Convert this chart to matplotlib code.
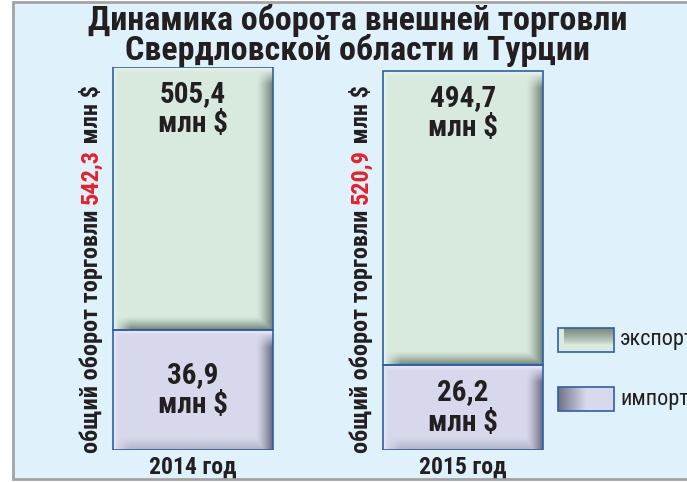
import numpy as np
import matplotlib
matplotlib.use("Agg")
import matplotlib.pyplot as plt
import matplotlib.transforms as mtransforms
from matplotlib.font_manager import fontManager, FontProperties, weight_dict, stretch_dict

# --- данные ---
years = ["2014 год", "2015 год"]
export = [505.4, 494.7]
imports = [36.9, 26.2]
total = [542.3, 520.9]
export_lbl = ["505,4", "494,7"]
import_lbl = ["36,9", "26,2"]
total_lbl = ["542,3", "520,9"]


def _num(v, table):
    return v if isinstance(v, (int, float)) else table.get(str(v).lower(), 400)


def narrow_font(want_weight):
    """Ищем узкий (condensed/narrow) шрифт нужной насыщенности."""
    order = ["Roboto", "Noto Sans", "Open Sans", "Liberation", "DejaVu", "Lato", "Inter"]
    best = None
    for f in fontManager.ttflist:
        cond = _num(f.stretch, stretch_dict) < 500 or "Condensed" in f.name or "Narrow" in f.name
        if not cond or f.style != "normal":
            continue
        rank = next((k for k, o in enumerate(order) if f.name.startswith(o)), 99)
        score = (abs(_num(f.weight, weight_dict) - want_weight), rank)
        if best is None or score < best[0]:
            best = (score, f.fname)
    if best is None:
        return FontProperties(family="DejaVu Sans", weight=want_weight, stretch="condensed")
    return FontProperties(fname=best[1])


FB = narrow_font(700)
FR = narrow_font(400)


def fp(base, size):
    p = base.copy()
    p.set_size(size)
    return p


BG = "#dff1fb"
DARK_TXT = "#231f20"
EDGE = "#2f5fa8"
C_EXP, D_EXP = np.array([0.85, 0.92, 0.87]), np.array([0.40, 0.46, 0.41])
C_IMP, D_IMP = np.array([0.85, 0.85, 0.93]), np.array([0.36, 0.36, 0.45])

W, H = 687, 482
fig = plt.figure(figsize=(W / 100, H / 100), dpi=100, facecolor="white")
ident = mtransforms.IdentityTransform()

# серая рамка
frame = fig.add_axes([0, 0, 1, 1], zorder=-5)
frame.set_xlim(0, W)
frame.set_ylim(H, 0)
frame.axis("off")
frame.add_patch(plt.Rectangle((13, 2), W, 477, facecolor=BG, edgecolor="#a3a3a3", lw=2))

ax = fig.add_axes([58 / W, 32 / H, 540 / W, 383 / H])
ax.set_autoscale_on(False)
ax.patch.set_visible(False)
# масштаб не пропорциональный, как в оригинале: нижняя часть растянута
ax.set_yscale("symlog", linthresh=40, linscale=0.523)
ax.set_xlim(-0.5, 1.5)
ax.set_ylim(0, max(total))
for s in ax.spines.values():
    s.set_visible(False)
ax.tick_params(left=False, labelleft=False, bottom=False)

x = np.arange(len(years))
bw = 0.593
b_imp = ax.bar(x, imports, bw, color=C_IMP, edgecolor="none", zorder=1)
b_exp = ax.bar(x, export, bw, bottom=imports, color=C_EXP, edgecolor="none", zorder=1)


def bevel(w, h, base, dark, bot_strength):
    xs = np.arange(w) + 0.5
    ys = np.arange(h) + 0.5
    tr = np.clip(1 - (w - xs) / 17, 0, 1) ** 1.3
    tb = np.clip(1 - (h - ys) / 14, 0, 1) ** 1.3 * bot_strength
    ramp_y = np.clip((ys - 3) / 14, 0, 1)
    ramp_x = np.clip((xs - 2) / 16, 0, 1)
    sh = np.maximum(tr[None, :] * ramp_y[:, None], tb[:, None] * ramp_x[None, :])
    sh = np.clip(sh, 0, 1) * 0.92
    img = base[None, None, :] * (1 - sh[..., None]) + dark[None, None, :] * sh[..., None]
    hl = np.maximum(np.clip(1 - ys / 5, 0, 1)[:, None] * np.ones((1, w)),
                    np.clip(1 - xs / 5, 0, 1)[None, :] * np.ones((h, 1))) * 0.45
    img = img * (1 - hl[..., None]) + hl[..., None]
    return np.clip(img, 0, 1)


for bars, base, dark, bs in [(b_imp, C_IMP, D_IMP, 0.35), (b_exp, C_EXP, D_EXP, 1.0)]:
    for p in bars:
        bb = p.get_window_extent()
        x0, x1 = round(bb.x0), round(bb.x1)
        y0, y1 = round(bb.y0), round(bb.y1)
        img = bevel(x1 - x0, y1 - y0, base, dark, bs)
        ax.imshow(img, extent=(x0, x1, y0, y1), transform=ident, aspect="auto",
                  interpolation="nearest", zorder=2)
ax.set_xlim(-0.5, 1.5)
ax.set_ylim(0, max(total))

ax.bar(x, imports, bw, fill=False, edgecolor=EDGE, lw=1.2, zorder=3)
ax.bar(x, export, bw, bottom=imports, fill=False, edgecolor=EDGE, lw=1.2, zorder=3)

# подписи значений
lab = dict(ha="center", va="center", color=DARK_TXT, zorder=5, linespacing=1.12,
           fontproperties=fp(FB, 21), textcoords="offset pixels")
for i in range(len(years)):
    ax.annotate(f"{export_lbl[i]}\nмлн $", (x[i], total[i]), xytext=(0, -42), **lab)
    y_top = ax.transData.transform((x[i], imports[i]))[1]
    y_bot = ax.transData.transform((x[i], 0))[1]
    ax.annotate(f"{import_lbl[i]}\nмлн $", (x[i], imports[i]),
                xytext=(0, (y_bot - y_top) / 2), **lab)

ax.set_xticks(x, years)
for t in ax.get_xticklabels():
    t.set_fontproperties(fp(FB, 17))
    t.set_color(DARK_TXT)
ax.tick_params(axis="x", pad=1)

# вертикальные подписи общего оборота
renderer = fig.canvas.get_renderer()
for i in range(len(years)):
    parts = [("общий оборот торговли ", DARK_TXT), (total_lbl[i], "#e8202a"), (" млн $", DARK_TXT)]
    off = -3
    for txt, col in parts:
        tr = mtransforms.offset_copy(ax.transData, fig=fig, x=-15, y=off, units="dots")
        t = ax.text(x[i] - bw / 2, 0, txt, rotation=90, rotation_mode="anchor",
                    ha="left", va="baseline", fontproperties=fp(FB, 17.5),
                    color=col, transform=tr, clip_on=False)
        off += t.get_window_extent(renderer).height

fig.text(0.521, 0.992, "Динамика оборота внешней торговли\nСвердловской области и Турции",
         ha="center", va="top", fontproperties=fp(FB, 24.5), color=DARK_TXT,
         linespacing=0.9)

# легенда (пиксельные координаты сверху вниз), градиент полосками
leg = fig.add_axes([0, 0, 1, 1], zorder=3)
leg.set_xlim(0, W)
leg.set_ylim(H, 0)
leg.set_autoscale_on(False)
leg.axis("off")
sw_x, sw_w, sw_h = 558, 56, 24
for (y0, base, dark, name) in [(328, C_EXP, D_EXP, "экспорт"), (387, C_IMP, D_IMP, "импорт")]:
    if name == "экспорт":
        # тёмная полоса сверху, светлеет книзу
        for k in range(sw_h):
            s = np.clip(1 - (k + 0.5) / (0.7 * sw_h), 0, 1) ** 0.8 * 0.85
            leg.add_patch(plt.Rectangle((sw_x + 6, y0 + k), sw_w - 6, 1.05, lw=0,
                                        facecolor=base * (1 - s) + dark * s, zorder=1))
        leg.add_patch(plt.Rectangle((sw_x, y0), 6, sw_h, lw=0, facecolor=base, zorder=1))
    else:
        # тёмный край слева, светлеет вправо
        for k in range(sw_w):
            s = np.clip(1 - (k + 0.5) / (0.5 * sw_w), 0, 1) * 0.85
            leg.add_patch(plt.Rectangle((sw_x + k, y0), 1.05, sw_h, lw=0,
                                        facecolor=base * (1 - s) + dark * s, zorder=1))
    leg.add_patch(plt.Rectangle((sw_x, y0), sw_w, sw_h, fill=False, edgecolor=EDGE, lw=1.2, zorder=2))
    leg.text(620, y0 + 12, name, ha="left", va="center", fontproperties=fp(FR, 16), color=DARK_TXT)

fig.savefig("out.png", dpi=100, facecolor="white")
